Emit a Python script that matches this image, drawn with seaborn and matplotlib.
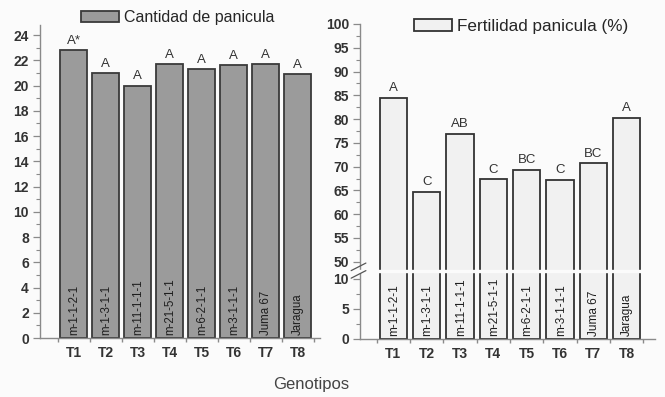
import numpy as np
import pandas as pd
import matplotlib
matplotlib.use("Agg")
import matplotlib.pyplot as plt
import seaborn as sns

# ---- data ----
tratamientos = ["T1", "T2", "T3", "T4", "T5", "T6", "T7", "T8"]
genotipos = ["m-1-1-2-1", "m-1-3-1-1", "m-11-1-1-1", "m-21-5-1-1",
             "m-6-2-1-1", "m-3-1-1-1", "Juma 67", "Jaragua"]
cantidad_panicula = [22.8, 21.0, 20.0, 21.7, 21.3, 21.6, 21.7, 20.9]
letras_cantidad = ["A*", "A", "A", "A", "A", "A", "A", "A"]
fertilidad_panicula = [84.5, 64.7, 76.9, 67.3, 69.3, 67.2, 70.7, 80.3]
letras_fertilidad = ["A", "C", "AB", "C", "BC", "C", "BC", "A"]
yticks_right = [0, 5, 10, 50, 55, 60, 65, 70, 75, 80, 85, 90, 95, 100]

BG = "#fbfbfb"
sns.set_theme(style="white")
plt.rcParams["font.family"] = ["Liberation Sans", "DejaVu Sans"]

fig = plt.figure(figsize=(6.65, 3.97), dpi=100, facecolor=BG)
axL = fig.add_axes([40/665, 1-338/397, 280/665, 313/397])
axR = fig.add_axes([360/665, 1-339/397, 295/665, 315/397])
for ax in (axL, axR):
    ax.set_facecolor(BG)

df1 = pd.DataFrame({"T": tratamientos, "v": cantidad_panicula})
df2 = pd.DataFrame({"T": tratamientos, "v": fertilidad_panicula})

# ---- left panel ----
sns.barplot(data=df1, x="T", y="v", ax=axL, color="#9b9b9b", saturation=1,
            width=0.84, edgecolor="#3a3a3a", linewidth=1.3,
            label="Cantidad de panicula")
axL.set_xlim(-1.05, 7.7)
axL.set_ylim(0, 24.8)
axL.set_yticks(np.arange(0, 25, 2))
axL.set_yticks(np.arange(0, 25, 1), minor=True)
for i, (v, l, g) in enumerate(zip(cantidad_panicula, letras_cantidad, genotipos)):
    axL.text(i, v + 0.25, l, ha="center", va="bottom", fontsize=9.5, color="#333")
    axL.text(i + 0.02, 0.25, g, rotation=90, ha="center", va="bottom",
             fontsize=8.3, color="#1e1e1e")
axL.legend(loc="upper left", bbox_to_anchor=(81/665, 1-10/397),
           bbox_transform=fig.transFigure, frameon=False, fontsize=11.5,
           handlelength=2.4, handleheight=0.75, handletextpad=0.3,
           borderpad=0, borderaxespad=0)

# ---- right panel with broken axis ----
def fwd(y):
    y = np.asarray(y, dtype=float)
    return np.where(y <= 10, y * 6.0,
           np.where(y <= 50, 60 + (y - 10) * 17 / 40, 77 + (y - 50) * 4.74))

def inv(u):
    u = np.asarray(u, dtype=float)
    return np.where(u <= 60, u / 6.0,
           np.where(u <= 77, 10 + (u - 60) * 40 / 17, 50 + (u - 77) / 4.74))

axR.set_yscale("function", functions=(fwd, inv))
sns.barplot(data=df2, x="T", y="v", ax=axR, color="#f1f1f1", saturation=1,
            width=0.82, edgecolor="#333333", linewidth=1.3,
            label="Fertilidad panicula (%)")
axR.set_xlim(-1.0, 7.85)
axR.set_ylim(0, 100)
axR.set_yticks(yticks_right)
axR.set_yticklabels([str(t) for t in yticks_right])
axR.set_yticks([2.5, 7.5, 52.5, 57.5, 62.5, 67.5, 72.5, 77.5, 82.5, 87.5,
                92.5, 97.5], minor=True)
for i, (v, l, g) in enumerate(zip(fertilidad_panicula, letras_fertilidad, genotipos)):
    axR.text(i, v + 0.8, l, ha="center", va="bottom", fontsize=9.5, color="#333")
    axR.text(i + 0.02, 0.45, g, rotation=90, ha="center", va="bottom",
             fontsize=8.5, color="#1e1e1e")
# break gap
axR.axhspan(27, 31.5, xmin=-0.02, xmax=1.0, color=BG, zorder=5, clip_on=False)
fb = fwd(29.2) / 314
for dy in (-0.012, 0.012):
    axR.plot([-0.03, 0.02], [fb + dy - 0.012, fb + dy + 0.012],
             transform=axR.transAxes, color="#555", lw=0.9, clip_on=False,
             zorder=6)
axR.legend(loc="upper left", bbox_to_anchor=(414/665, 1-19/397),
           bbox_transform=fig.transFigure, frameon=False, fontsize=12.3,
           handlelength=2.2, handleheight=0.7, handletextpad=0.3,
           borderpad=0, borderaxespad=0)

# ---- common styling ----
for ax in (axL, axR):
    ax.set_xlabel("")
    ax.set_ylabel("")
    for s in ("top", "right"):
        ax.spines[s].set_visible(False)
    for s in ("left", "bottom"):
        ax.spines[s].set_color("#8a8a8a")
        ax.spines[s].set_linewidth(1.0)
    ax.set_xticks(range(8))
    ax.set_xticks(np.arange(-0.5, 8, 1), minor=True)
    ax.tick_params(axis="x", which="major", length=0, pad=6, labelsize=10,
                   labelcolor="#333")
    ax.tick_params(axis="x", which="minor", length=3, color="#8a8a8a",
                   bottom=True)
    ax.tick_params(axis="y", which="major", length=5, width=0.9,
                   color="#8a8a8a", labelsize=10, labelcolor="#333",
                   left=True, pad=3)
    ax.tick_params(axis="y", which="minor", length=3, width=0.8,
                   color="#8a8a8a", left=True)
    for lab in ax.get_xticklabels() + ax.get_yticklabels():
        lab.set_fontweight("bold")

fig.text(311/665, 1-385/397, "Genotipos", ha="center", va="center",
         fontsize=12, color="#444")

fig.savefig("out.png", dpi=100, facecolor=BG)
